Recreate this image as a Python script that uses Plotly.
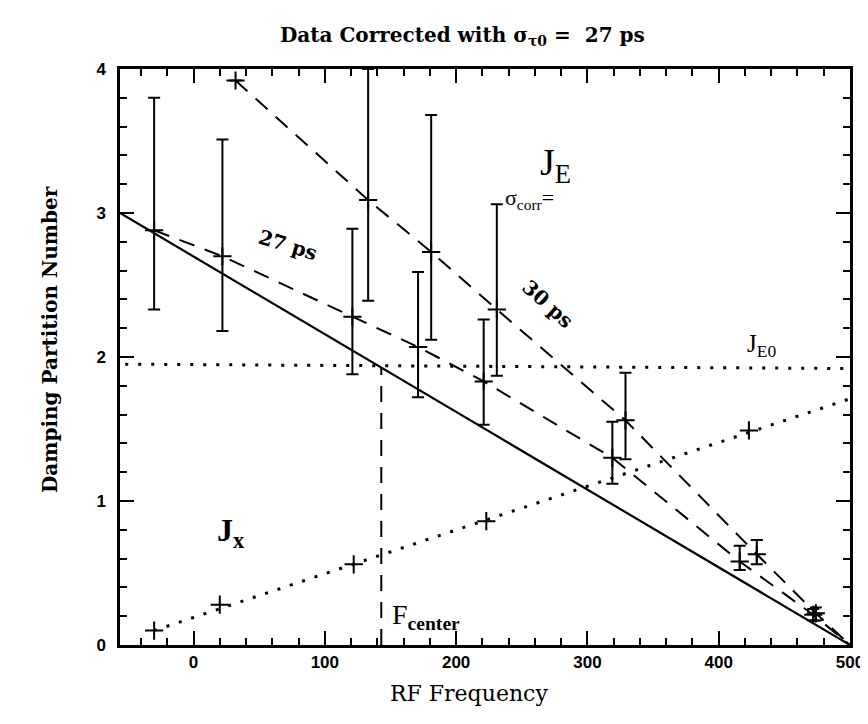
import plotly.graph_objects as go

# theory line for J_E and the reference lines
theory_x = [-56, 500]
theory_y = [3.0, 0.0]
je0_x = [-52, 500]
je0_y = [1.95, 1.92]
fcenter_x = [143, 143]
fcenter_y = [0.0, 1.93]

# J_x measured points and dotted fit
jx_x = [-30, 20, 122, 223, 423]
jx_y = [0.10, 0.28, 0.56, 0.86, 1.49]
jx_line_x = [-30, 500]
jx_line_y = [0.10, 1.71]

# J_E corrected with sigma_corr = 27 ps
je27_x = [-30, 22, 121, 171, 221, 319, 416, 472]
je27_y = [2.88, 2.70, 2.28, 2.07, 1.83, 1.30, 0.58, 0.21]
je27_hi = [3.80, 3.51, 2.89, 2.59, 2.26, 1.55, 0.69, 0.25]
je27_lo = [2.33, 2.18, 1.88, 1.72, 1.53, 1.12, 0.52, 0.17]
je27_line_x = je27_x + [500]
je27_line_y = je27_y + [0.0]

# J_E corrected with sigma_corr = 30 ps
je30_x = [32, 133, 181, 231, 329, 429, 474]
je30_y = [3.92, 3.09, 2.73, 2.33, 1.56, 0.63, 0.22]
je30_hi = [3.92, 4.00, 3.68, 3.06, 1.89, 0.73, 0.26]
je30_lo = [3.92, 2.39, 2.12, 1.87, 1.29, 0.56, 0.17]
je30_line_x = je30_x + [500]
je30_line_y = je30_y + [0.0]

TYPE = "DejaVu Serif"
SERIF = "Liberation Serif"
DOTS = "3px,10px"
DASH = "16px,11px"


def err(y, hi, lo):
    plus = [h - v for h, v in zip(hi, y)]
    minus = [v - l for v, l in zip(y, lo)]
    return dict(type="data", symmetric=False, array=plus, arrayminus=minus,
                color="black", thickness=2, width=6)


cross = dict(symbol="cross-thin", size=13, line=dict(color="black", width=2))

fig = go.Figure()

fig.add_trace(go.Scatter(x=theory_x, y=theory_y, mode="lines",
                         line=dict(color="black", width=2.2)))
fig.add_trace(go.Scatter(x=je0_x, y=je0_y, mode="lines",
                         line=dict(color="black", width=3, dash=DOTS)))
fig.add_trace(go.Scatter(x=fcenter_x, y=fcenter_y, mode="lines",
                         line=dict(color="black", width=2, dash=DASH)))
fig.add_trace(go.Scatter(x=jx_line_x, y=jx_line_y, mode="lines",
                         line=dict(color="black", width=3, dash=DOTS)))
fig.add_trace(go.Scatter(x=jx_x, y=jx_y, mode="markers", marker=cross))

fig.add_trace(go.Scatter(x=je27_line_x, y=je27_line_y, mode="lines",
                         line=dict(color="black", width=2, dash=DASH)))
fig.add_trace(go.Scatter(x=je27_x, y=je27_y, mode="markers",
                         error_y=err(je27_y, je27_hi, je27_lo), marker=cross))
fig.add_trace(go.Scatter(x=je30_line_x, y=je30_line_y, mode="lines",
                         line=dict(color="black", width=2, dash=DASH)))
fig.add_trace(go.Scatter(x=je30_x, y=je30_y, mode="markers",
                         error_y=err(je30_y, je30_hi, je30_lo), marker=cross))

notes = [
    dict(x=262, y=3.33, text="J<sub>E</sub>", font=dict(family=SERIF, size=38), xanchor="left"),
    dict(x=236, y=3.10, text="σ<sub>corr</sub>=", font=dict(family=SERIF, size=22), xanchor="left"),
    dict(x=72, y=2.78, text="<b>27 ps</b>", textangle=17, font=dict(family=TYPE, size=20)),
    dict(x=270, y=2.37, text="<b>30 ps</b>", textangle=42, font=dict(family=TYPE, size=20)),
    dict(x=420, y=2.08, text="J<sub>E0</sub>", font=dict(family=SERIF, size=25), xanchor="left"),
    dict(x=16, y=0.78, text="<b>J<sub>x</sub></b>", font=dict(family=SERIF, size=32), xanchor="left"),
    dict(x=150, y=0.2, text="F<sub><b>center</b></sub>", font=dict(family=SERIF, size=28), xanchor="left"),
]
for n in notes:
    fig.add_annotation(showarrow=False, font_color="black", **n)

fig.add_annotation(xref="paper", yref="paper", x=0.478, y=-0.109, showarrow=False,
                   text="RF Frequency", font=dict(family=TYPE, size=22, color="black"))
fig.add_annotation(xref="paper", yref="paper", x=-0.116, y=0.53, showarrow=False,
                   textangle=-90, text="<b>Damping Partition Number</b>",
                   font=dict(family=TYPE, size=20, color="black"))

axis_style = dict(showgrid=False, zeroline=False, showline=True, linecolor="black",
                  linewidth=2.5, mirror="allticks", ticks="inside", ticklen=14,
                  tickwidth=2, tickcolor="black",
                  tickfont=dict(family="Liberation Sans", size=17, color="black"))

fig.update_layout(
    width=868, height=724,
    margin=dict(l=112, r=22, t=61, b=87),
    paper_bgcolor="white", plot_bgcolor="white",
    showlegend=False,
    title=dict(text="<b>Data Corrected with σ<sub>τ0</sub> =  27 ps</b>",
               x=0.469, xref="paper", xanchor="center", y=0.963, yanchor="middle",
               font=dict(family=TYPE, size=20, color="black")),
    xaxis=dict(range=[-56, 500], dtick=100, tick0=0, tickformat="d",
               minor=dict(dtick=20, tick0=0, ticks="inside", ticklen=7,
                          tickwidth=1.5, tickcolor="black"),
               **axis_style),
    yaxis=dict(range=[0, 4], dtick=1, tick0=0, ticklabelstandoff=8,
               minor=dict(dtick=0.2, tick0=0, ticks="inside", ticklen=7,
                          tickwidth=1.5, tickcolor="black"),
               **axis_style),
)

fig.update_xaxes(tickprefix="<b>", ticksuffix="</b>")
fig.update_yaxes(tickprefix="<b>", ticksuffix="</b>")

fig.write_html("out.html")
